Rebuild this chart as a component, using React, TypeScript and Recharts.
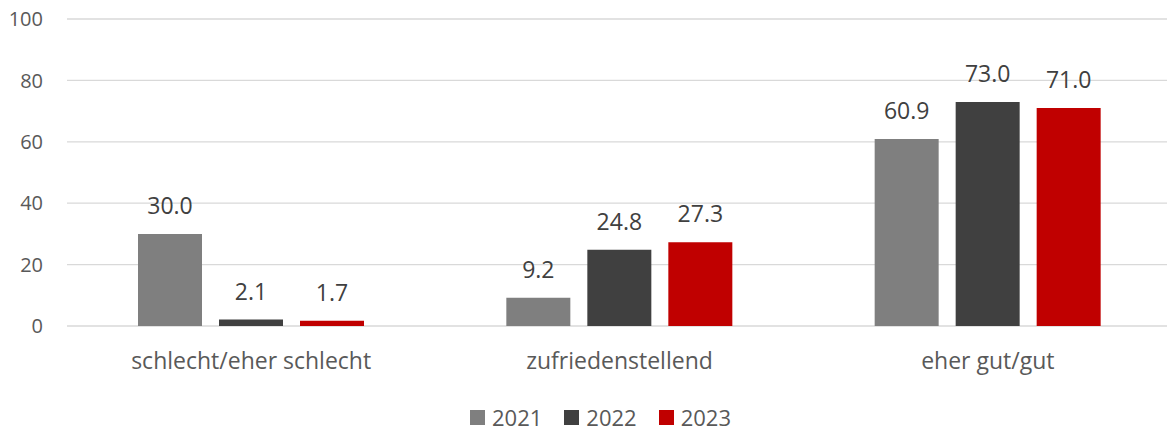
import React from 'react';
import { BarChart, Bar, XAxis, YAxis, CartesianGrid, Legend, LabelList } from 'recharts';

const categories = ['schlecht/eher schlecht', 'zufriedenstellend', 'eher gut/gut'];
const values2021 = [30.0, 9.2, 60.9];
const values2022 = [2.1, 24.8, 73.0];
const values2023 = [1.7, 27.3, 71.0];
const yTicks = [0, 20, 40, 60, 80, 100];

const series = [
  { key: 'y2021', name: '2021', color: '#7f7f7f' },
  { key: 'y2022', name: '2022', color: '#404040' },
  { key: 'y2023', name: '2023', color: '#c00000' },
];

const data = categories.map((name, i) => ({
  name,
  y2021: values2021[i],
  y2022: values2022[i],
  y2023: values2023[i],
}));

const font = '"Open Sans", sans-serif';

const LegendContent = () => (
  <div
    style={{
      display: 'flex',
      justifyContent: 'center',
      gap: 22,
      fontFamily: font,
      fontSize: 22,
      lineHeight: '22px',
      color: '#595959',
    }}
  >
    {series.map((s) => (
      <div key={s.key} style={{ display: 'flex', alignItems: 'center' }}>
        <span style={{ width: 15, height: 15, background: s.color, marginRight: 7, display: 'inline-block' }} />
        <span>{s.name}</span>
      </div>
    ))}
  </div>
);

export default function App() {
  return (
    <div style={{ position: 'absolute', left: 0, top: 0, background: '#fff' }}>
      <BarChart
        width={1167}
        height={430}
        data={data}
        margin={{ top: 19, right: -5, left: 0, bottom: 64 }}
        barSize={64}
        barGap={17}
      >
        <CartesianGrid vertical={false} stroke="#d9d9d9" strokeWidth={1.3} />
        <XAxis
          dataKey="name"
          height={40}
          axisLine={false}
          tickLine={false}
          tickSize={0}
          tickMargin={27}
          tick={{ fill: '#595959', fontSize: 23, fontFamily: font }}
        />
        <YAxis
          width={67}
          domain={[0, 100]}
          ticks={yTicks}
          axisLine={false}
          tickLine={false}
          tickSize={0}
          tickMargin={24}
          tick={{ fill: '#595959', fontSize: 20, fontFamily: font }}
        />
        <Legend
          verticalAlign="middle"
          align="center"
          layout="horizontal"
          content={<LegendContent />}
          wrapperStyle={{ top: 406, left: 17, width: 1167 }}
        />
        {series.map((s) => (
          <Bar key={s.key} dataKey={s.key} name={s.name} fill={s.color} isAnimationActive={false}>
            <LabelList
              dataKey={s.key}
              position="top"
              offset={20}
              formatter={(v: number) => v.toFixed(1)}
              style={{ fill: '#404040', fontSize: 23, fontFamily: font }}
            />
          </Bar>
        ))}
      </BarChart>
    </div>
  );
}
